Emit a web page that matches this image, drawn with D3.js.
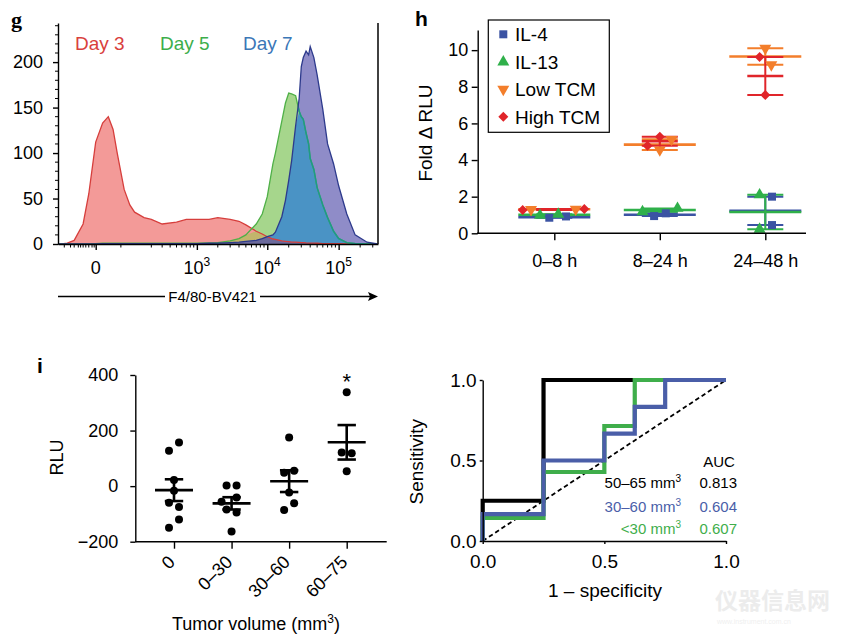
<!DOCTYPE html>
<html><head><meta charset="utf-8">
<script src="https://cdn.jsdelivr.net/npm/d3@7"></script>
<style>
body{margin:0;background:#fff;}
svg{display:block;}
</style></head><body>
<svg id="c" width="844" height="639"></svg>
<script>
// ================= DATA =================
// Panel g : flow histograms (F4/80-BV421 intensity vs count)
const gX   = [-94,-80,-60,-40,-20,-10,0,10,20,30,40,60,80,100,150,200,300,500,700,1000,1500,2000,3000,4000,5000,7000,8500,10000,12000,13000,16000,18000,20000,22000,25000,28000,30000,32000,35000,38000,40000,45000,50000,60000,70000,85000,100000,130000,170000,250000,350000];
const day3 = [0,0,1,4,22,55,112,133,140,126,100,60,43,35,29,27,22,24,27,27,27,29,27,25,21,14,11,8,5.5,5,3.5,3,2.5,2,2,1.8,1.5,1.5,1.2,1,1,1,0.8,0.5,0.5,0.5,0.3,0,0,0,0];
const day5 = [0,0,0,0,0,0,0.5,1,1,1,1,1,1,1,1,1,1,1,1,1,1.2,1.5,3.5,6,10,22,33,52,88,100,135,155,166,165,163,146,140,137,122,110,94,82,62,43,29,14,6,1.5,0.5,0,0];
const day7 = [0,0,0,0,0,0,0,0.3,0.3,0.3,0.3,0.3,0.3,0.3,0.3,0.3,0.3,0.3,0.4,0.5,0.8,1,1.5,2,3,4,6,8,10,13,30,48,70,92,130,160,195,205,212,208,217,205,186,148,110,88,64,33,10,2,0];
const gYTicks = [0,50,100,150,200];
const gXMajor = [0,1000,10000,100000];
const gXMajorLabels = [["0",""],["10","3"],["10","4"],["10","5"]];
const gXMinor = [-70,-50,-40,-30,-25,-20,-15,-10,-5,-2,50,200,300,400,500,600,700,800,900,2000,3000,4000,5000,6000,7000,8000,9000,20000,30000,40000,50000,60000,70000,80000,90000,200000,300000];
const gLegend = ["Day 3","Day 5","Day 7"];

// Panel h : Fold Δ RLU, two replicates per group
const hCats = ["0–8 h","8–24 h","24–48 h"];
const hNames = ["IL-4","IL-13","Low TCM","High TCM"];
const il4     = [[0.85,0.92],[0.94,1.09],[2.0,0.45]];
const il13    = [[0.98,1.04],[1.18,1.36],[2.1,0.22]];
const lowTCM  = [[1.30,1.32],[4.55,5.13],[10.1,9.2]];
const highTCM = [[1.27,1.33],[4.78,5.27],[9.63,7.55]];
const hYTicks = [0,2,4,6,8,10];
// horizontal scatter offsets (px) used by the dot plot
const hJitIL4  = [[-5,11.7],[-5.7,6],[6.7,6.7]];
const hJitIL13 = [[-14.3,4],[-17.3,17.7],[-5.7,-5.7]];
const hJitLow  = [[-23.3,21.4],[0,11.7],[0,6]];
const hJitHigh = [[-31.6,30],[-12.3,0],[-5.7,0]];

// Panel i : RLU vs tumor volume
const iCats = ["0","0–30","30–60","60–75"];
const rlu0    = [157,127,22,-17,-60,-75,-120,-150];
const rlu0_30 = [2.5,2.5,-41,-56,-84,-95,-163];
const rlu30_60= [175,55,48,-23,-62,-86];
const rlu60_75= [338,121,118,54];
const iYTicks = [-200,0,200,400];
const iJit = [[5,-5,0,0,-5,5,5,-5],[-5,5,5,-10,-5,5,0],[0,5,-5,0,5,-5],[0,-5,5,0]];

// Panel ROC
const rocTicks = [0,0.5,1];
const fprBlack = [0,0,0.25,0.25,1];
const tprBlack = [0,0.25,0.25,1,1];
const fprBlue  = [0,0,0.25,0.25,0.5,0.5,0.625,0.625,0.75,0.75,1];
const tprBlue  = [0,1/6,1/6,0.5,0.5,2/3,2/3,5/6,5/6,1,1];
const fprGreen = [0,0,0.25,0.25,0.5,0.5,0.625,0.625,1];
const tprGreen = [0,1/7,1/7,3/7,3/7,5/7,5/7,1,1];
const aucLabels = ["50–65 mm","30–60 mm","<30 mm"];
const aucValues = ["0.813","0.604","0.607"];

// ================= DRAW =================
const FONT = '"Liberation Sans", Arial, Helvetica, sans-serif';
const svg = d3.select("#c").attr("font-family", FONT);

function styleAxis(sel, fs){
  sel.attr("font-size", fs).attr("font-family", FONT);
  sel.selectAll("path.domain").attr("stroke","#000").attr("stroke-width",1.4);
  sel.selectAll(".tick line").attr("stroke","#000").attr("stroke-width",1.4);
  sel.selectAll(".tick text").attr("fill","#000");
}

// ---------- Panel g ----------
{
  const G = svg.append("g");
  const x = d3.scaleSymlog().constant(40).domain([-94.7, 355280]).range([58,378]);
  const y = d3.scaleLinear().domain([0,243]).range([244,23]);
  const rows = gX.map((v,i)=>({x:v, r:day3[i], g:day5[i], p:day7[i]}));
  const area = f => d3.area().x(d=>x(d.x)).y0(y(0)).y1(d=>y(f(d)))(rows);
  const line = f => d3.line().x(d=>x(d.x)).y(d=>y(f(d)))(rows);

  G.append("path").attr("d", area(d=>d.p)).attr("fill","#8f8cc8");
  G.append("path").attr("d", area(d=>d.g)).attr("fill","#a6d68c");
  G.append("path").attr("d", area(d=>d.r)).attr("fill","#f39a98");
  G.append("path").attr("d", area(d=>Math.min(d.g,d.p))).attr("fill","#4a93c5");
  G.append("path").attr("d", area(d=>Math.min(d.r,d.g))).attr("fill","#c2b56c");
  G.append("path").attr("d", area(d=>Math.min(d.r,d.p))).attr("fill","#6b6a9c");

  G.append("clipPath").attr("id","purpleClip").append("path").attr("d", area(d=>d.p));
  G.append("path").attr("d", line(d=>d.r)).attr("fill","none").attr("stroke","#d63e3c").attr("stroke-width",1.3);
  G.append("path").attr("d", line(d=>d.g)).attr("fill","none").attr("stroke","#4fb047").attr("stroke-width",1.3);
  G.append("path").attr("d", line(d=>d.g)).attr("fill","none").attr("stroke","#1e9a86").attr("stroke-width",1.5).attr("clip-path","url(#purpleClip)");
  G.append("path").attr("d", line(d=>d.p)).attr("fill","none").attr("stroke","#2d3a8c").attr("stroke-width",1.3);

  // axes
  const ya = G.append("g").attr("transform","translate(58,0)")
    .call(d3.axisLeft(y).tickValues(gYTicks).tickSize(5).tickPadding(10).tickSizeOuter(0));
  styleAxis(ya, 18);
  G.selectAll("line.gyminor").data(d3.range(10,241,10).filter(v=>v%50!==0)).join("line")
    .attr("x1",58).attr("x2",55).attr("y1",d=>y(d)).attr("y2",d=>y(d)).attr("stroke","#000").attr("stroke-width",1);

  const xa = G.append("g").attr("transform","translate(0,244)")
    .call(d3.axisBottom(x).tickValues(gXMajor).tickSize(6).tickFormat("").tickSizeOuter(0));
  styleAxis(xa, 18);
  G.selectAll("line.gxminor").data(gXMinor).join("line")
    .attr("x1",d=>x(d)).attr("x2",d=>x(d)).attr("y1",244).attr("y2",247.5).attr("stroke","#000").attr("stroke-width",1);
  gXMajor.forEach((v,i)=>{
    const t = G.append("text").attr("x",x(v)).attr("y",274).attr("text-anchor","middle").attr("font-size",18).text(gXMajorLabels[i][0]);
    if (gXMajorLabels[i][1]) t.append("tspan").attr("dy",-8).attr("font-size",12).text(gXMajorLabels[i][1]);
  });
  // right border
  G.append("line").attr("x1",378).attr("x2",378).attr("y1",23).attr("y2",244).attr("stroke","#111").attr("stroke-width",1.6);

  // legend
  const lc = ["#d9403c","#3cae4a","#3b77b7"];
  const lx = [75,160,243];
  gLegend.forEach((s,i)=>G.append("text").attr("x",lx[i]).attr("y",50).attr("font-size",19).attr("fill",lc[i]).text(s));

  // arrow label
  G.append("line").attr("x1",58).attr("x2",165).attr("y1",296.5).attr("y2",296.5).attr("stroke","#000").attr("stroke-width",1.5);
  G.append("line").attr("x1",260).attr("x2",371).attr("y1",296.5).attr("y2",296.5).attr("stroke","#000").attr("stroke-width",1.5);
  G.append("path").attr("d","M378,296.5 L368,292 L370,296.5 L368,301 Z").attr("fill","#000");
  G.append("text").attr("x",212.5).attr("y",301.5).attr("text-anchor","middle").attr("font-size",15).text("F4/80-BV421");

  G.append("text").attr("x",11).attr("y",27).attr("font-family",'"Liberation Serif", "Times New Roman", serif').attr("font-weight","bold").attr("font-size",22).text("g");
}

// ---------- Panel h ----------
{
  const H = svg.append("g");
  const x = d3.scalePoint().domain(hCats).range([554.3,765.3]);
  const y = d3.scaleLinear().domain([0,11.1]).range([233.3,30]);
  const series = [
    {vals:il4,     jit:hJitIL4,  color:"#3b53a3", sym:"square",  meanW:72},
    {vals:il13,    jit:hJitIL13, color:"#2fb04a", sym:"tri",     meanW:72},
    {vals:lowTCM,  jit:hJitLow,  color:"#f37e2b", sym:"tridown", meanW:72},
    {vals:highTCM, jit:hJitHigh, color:"#e0252a", sym:"diamond", meanW:36}
  ];
  const symPath = s => {
    if (s==="square") return d3.symbol(d3.symbolSquare,64)();
    if (s==="diamond") return d3.symbol(d3.symbolSquare,50)();
    return d3.symbol(d3.symbolTriangle,62)();
  };
  const symRot = s => s==="diamond" ? 45 : (s==="tridown" ? 180 : 0);

  // lines
  series.forEach(se=>{
    se.vals.forEach((v,ci)=>{
      const cx = x(hCats[ci]);
      const m = d3.mean(v), sem = d3.deviation(v)/Math.sqrt(v.length);
      H.append("line").attr("x1",cx).attr("x2",cx).attr("y1",y(m-sem)).attr("y2",y(m+sem)).attr("stroke",se.color).attr("stroke-width",2);
      [m-sem,m+sem].forEach(c=>H.append("line").attr("x1",cx-18).attr("x2",cx+18).attr("y1",y(c)).attr("y2",y(c)).attr("stroke",se.color).attr("stroke-width",2));
      H.append("line").attr("x1",cx-se.meanW/2).attr("x2",cx+se.meanW/2).attr("y1",y(m)).attr("y2",y(m)).attr("stroke",se.color).attr("stroke-width",2.6);
    });
  });
  // points
  series.forEach(se=>{
    se.vals.forEach((v,ci)=>{
      v.forEach((val,k)=>{
        H.append("path").attr("d",symPath(se.sym))
          .attr("transform",`translate(${x(hCats[ci])+se.jit[ci][k]},${y(val)}) rotate(${symRot(se.sym)})`)
          .attr("fill",se.color);
      });
    });
  });

  const ya = H.append("g").attr("transform","translate(477.7,0)")
    .call(d3.axisLeft(y).tickValues(hYTicks).tickSize(6).tickPadding(3.5).tickSizeOuter(0));
  styleAxis(ya, 18);
  const xa = H.append("g").attr("transform","translate(0,233.3)")
    .call(d3.axisBottom(x).tickSize(7).tickPadding(14).tickSizeOuter(0));
  styleAxis(xa, 18);
  xa.select("path.domain").remove();
  H.append("line").attr("x1",477).attr("x2",806).attr("y1",233.3).attr("y2",233.3).attr("stroke","#000").attr("stroke-width",1.4);

  H.append("text").attr("transform","translate(432,133) rotate(-90)").attr("text-anchor","middle").attr("font-size",19).text("Fold Δ RLU");

  // legend
  H.append("rect").attr("x",488.3).attr("y",20).attr("width",121).attr("height",112.3).attr("fill","#fff").attr("stroke","#000").attr("stroke-width",1.2);
  const ly = [34.3,62,89.3,116.7];
  series.forEach((se,i)=>{
    H.append("path").attr("d",symPath(se.sym)).attr("transform",`translate(503.3,${ly[i]}) rotate(${symRot(se.sym)})`).attr("fill",se.color);
    H.append("text").attr("x",515).attr("y",ly[i]+6.8).attr("font-size",19).text(hNames[i]);
  });

  H.append("text").attr("x",415).attr("y",26).attr("font-weight","bold").attr("font-size",21).text("h");
}

// ---------- Panel i ----------
{
  const I = svg.append("g");
  const x = d3.scalePoint().domain(iCats).range([174,346.7]);
  const y = d3.scaleLinear().domain([-200,400]).range([541.7,375]);
  const groups = [rlu0, rlu0_30, rlu30_60, rlu60_75];
  groups.forEach((v,gi)=>{
    const cx = x(iCats[gi]);
    const m = d3.mean(v), sem = d3.deviation(v)/Math.sqrt(v.length);
    I.selectAll(null).data(v).join("circle")
      .attr("cx",(d,k)=>cx+iJit[gi][k]).attr("cy",d=>y(d)).attr("r",4).attr("fill","#000");
    I.append("line").attr("x1",cx).attr("x2",cx).attr("y1",y(m-sem)).attr("y2",y(m+sem)).attr("stroke","#000").attr("stroke-width",2.6);
    [m-sem,m+sem].forEach(c=>I.append("line").attr("x1",cx-9.2).attr("x2",cx+9.2).attr("y1",y(c)).attr("y2",y(c)).attr("stroke","#000").attr("stroke-width",2.6));
    I.append("line").attr("x1",cx-19).attr("x2",cx+19).attr("y1",y(m)).attr("y2",y(m)).attr("stroke","#000").attr("stroke-width",2.6);
  });
  const ya = I.append("g").attr("transform","translate(135.3,0)")
    .call(d3.axisLeft(y).tickValues(iYTicks).tickSize(5).tickPadding(12).tickSizeOuter(0)
      .tickFormat(d=> d<0 ? "−"+Math.abs(d) : String(d)));
  styleAxis(ya, 18);
  const xa = I.append("g").attr("transform","translate(0,541.7)")
    .call(d3.axisBottom(x).tickSize(7).tickSizeOuter(0));
  styleAxis(xa, 18);
  xa.select("path.domain").remove();
  xa.selectAll(".tick text").attr("x",0).attr("y",0).attr("dy","0.35em")
    .attr("text-anchor","end").attr("transform","translate(-3,17) rotate(-45)");
  I.append("line").attr("x1",135.3).attr("x2",386.7).attr("y1",541.7).attr("y2",541.7).attr("stroke","#000").attr("stroke-width",1.4);

  I.append("text").attr("transform","translate(63,457.5) rotate(-90)").attr("text-anchor","middle").attr("font-size",18).text("RLU");
  const t = I.append("text").attr("x",256).attr("y",630).attr("text-anchor","middle").attr("font-size",18).text("Tumor volume (mm");
  t.append("tspan").attr("dy",-7).attr("font-size",12).text("3");
  t.append("tspan").attr("dy",7).text(")");
  I.append("text").attr("x",x("60–75")).attr("y",389).attr("text-anchor","middle").attr("font-size",22).text("*");
  I.append("text").attr("x",37).attr("y",373).attr("font-weight","bold").attr("font-size",21).text("i");
}

// ---------- Panel ROC ----------
{
  const R = svg.append("g");
  const x = d3.scaleLinear().domain([0,1]).range([482.7,726]);
  const y = d3.scaleLinear().domain([0,1]).range([541,380]);
  R.append("line").attr("x1",x(0)).attr("y1",y(0)).attr("x2",x(1)).attr("y2",y(1))
    .attr("stroke","#000").attr("stroke-width",1.8).attr("stroke-dasharray","4.5,3");
  const ln = d3.line().x(d=>x(d[0])).y(d=>y(d[1]));
  const curves = [
    {f:fprBlack, t:tprBlack, c:"#000000"},
    {f:fprGreen, t:tprGreen, c:"#3fae4b"},
    {f:fprBlue,  t:tprBlue,  c:"#4a5ea8"}
  ];
  curves.forEach(cv=>{
    R.append("path").attr("d", ln(cv.f.map((v,i)=>[v,cv.t[i]])))
      .attr("fill","none").attr("stroke",cv.c).attr("stroke-width",4.2).attr("stroke-linejoin","miter");
  });
  const ya = R.append("g").attr("transform","translate(482.7,0)")
    .call(d3.axisLeft(y).tickValues(rocTicks).tickSize(3).tickPadding(3).tickSizeOuter(0).tickFormat(d3.format(".1f")));
  styleAxis(ya, 19);
  const xa = R.append("g").attr("transform","translate(0,541)")
    .call(d3.axisBottom(x).tickValues(rocTicks).tickSize(3).tickPadding(10.5).tickSizeOuter(0).tickFormat(d3.format(".1f")));
  styleAxis(xa, 19);

  R.append("text").attr("x",605).attr("y",596.7).attr("text-anchor","middle").attr("font-size",19).text("1 – specificity");
  R.append("text").attr("transform","translate(423,461.7) rotate(-90)").attr("text-anchor","middle").attr("font-size",19).text("Sensitivity");

  R.append("text").attr("x",719).attr("y",467).attr("text-anchor","middle").attr("font-size",15).text("AUC");
  const ac = ["#000","#4a5ea8","#3fae4b"];
  const ayy = [487.5,511.7,534];
  aucLabels.forEach((s,i)=>{
    const t = R.append("text").attr("x",681).attr("y",ayy[i]).attr("text-anchor","end").attr("font-size",15).attr("fill",ac[i]).text(s);
    t.append("tspan").attr("dy",-6).attr("font-size",10).text("3");
    R.append("text").attr("x",737).attr("y",ayy[i]).attr("text-anchor","end").attr("font-size",15).attr("fill",ac[i]).text(aucValues[i]);
  });

  // watermark
  R.append("text").attr("x",715).attr("y",609).attr("font-family",'"Noto Sans CJK SC", sans-serif').attr("font-weight","bold")
    .attr("font-size",23).attr("fill","#ececec").text("仪器信息网");
  R.append("text").attr("x",717).attr("y",624).attr("font-size",7).attr("fill","#efefef").text("www.instrument.com.cn");
}
</script>
</body></html>
